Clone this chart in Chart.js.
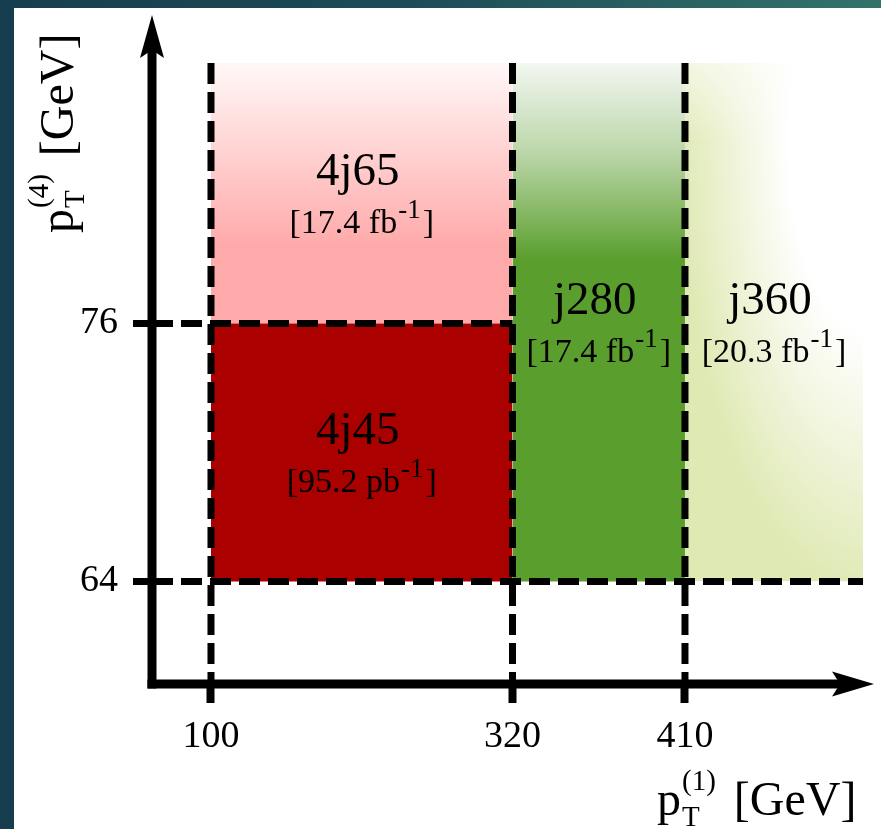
<!DOCTYPE html>
<html>
<head>
<meta charset="utf-8">
<title>Trigger regions</title>
<script src="https://cdn.jsdelivr.net/npm/chart.js@4.4.1/dist/chart.umd.min.js"></script>
<style>
  html, body { margin: 0; padding: 0; }
  body {
    width: 881px; height: 829px; overflow: hidden; position: relative;
    background: linear-gradient(90deg, #163d4e 0%, #1c4b57 45%, #33736a 100%);
  }
  #sheet { position: absolute; left: 14px; top: 8px; right: 0; bottom: 0; background: #fff; }
  #chart { position: absolute; left: 0; top: 0; }
</style>
</head>
<body>
<div id="sheet"></div>
<canvas id="chart" width="881" height="829"></canvas>
<script>
// thresholds on the leading and fourth jet pT (GeV)
const leadCuts = [100, 320, 410];
const fourthCuts = [64, 76];

// trigger regions; null = no upper cut
const regionNames = ['4j45', '4j65', 'j280', 'j360'];
const regionLumi = ['95.2', '17.4', '17.4', '20.3'];
const regionUnit = ['pb', 'fb', 'fb', 'fb'];
const regionLead = [[100, 320], [100, 320], [320, 410], [410, null]];
const regionFourth = [[64, 76], [76, null], [64, null], [64, null]];

// region colours
const regionColor = ['#aa0000', '#ffaaaa', '#5a9e2d', '#dfe9b3'];

// the axes are schematic, not to scale: value -> fraction of the axis length
const X_OPEN = 500;   // where open-ended regions stop drawing
const Y_OPEN = 100;
const KNOTS = {
  x: [[0, 0], [100, 0.0817], [320, 0.4993], [410, 0.7382], [X_OPEN, 0.9848], [520, 1]],
  y: [[50, 0], [64, 0.1532], [76, 0.5389], [Y_OPEN, 0.9283], [105, 1]]
};

function toFraction(knots, v) {
  for (let i = 1; i < knots.length; i++) {
    if (v <= knots[i][0] || i === knots.length - 1) {
      const [v0, f0] = knots[i - 1];
      const [v1, f1] = knots[i];
      return f0 + (v - v0) / (v1 - v0) * (f1 - f0);
    }
  }
}
function fromFraction(knots, f) {
  for (let i = 1; i < knots.length; i++) {
    if (f <= knots[i][1] || i === knots.length - 1) {
      const [v0, f0] = knots[i - 1];
      const [v1, f1] = knots[i];
      return v0 + (f - f0) / (f1 - f0) * (v1 - v0);
    }
  }
}

const LinearScale = Chart.registry.getScale('linear');
class SchematicScale extends LinearScale {
  getPixelForValue(value) {
    if (value === null || value === undefined || isNaN(value)) return NaN;
    return this.getPixelForDecimal(toFraction(KNOTS[this.id], value));
  }
  getValueForPixel(pixel) {
    return fromFraction(KNOTS[this.id], this.getDecimalForPixel(pixel));
  }
}
SchematicScale.id = 'schematic';
SchematicScale.defaults = LinearScale.defaults;
Chart.register(SchematicScale);

const SERIF = '"Liberation Serif", "Times New Roman", serif';

// fill styles (built once the scales know their pixels)
const patternCache = {};
function regionFill(i) {
  return (ctx) => {
    const chart = ctx.chart;
    if (!chart.chartArea) return regionColor[i];
    const xs = chart.scales.x, ys = chart.scales.y;
    const g = chart.ctx;
    const top = ys.getPixelForValue(Y_OPEN);
    const name = regionNames[i];
    if (name === '4j65') {
      const lg = g.createLinearGradient(0, top, 0, ys.getPixelForValue(regionFourth[i][0]));
      lg.addColorStop(0, '#fff8f8');
      lg.addColorStop(0.7, regionColor[i]);
      lg.addColorStop(1, regionColor[i]);
      return lg;
    }
    if (name === 'j280') {
      const lg = g.createLinearGradient(0, top, 0, ys.getPixelForValue(regionFourth[i][0]));
      lg.addColorStop(0, '#f3f7f1');
      lg.addColorStop(0.18, '#b9d5a6');
      lg.addColorStop(0.38, regionColor[i]);
      lg.addColorStop(1, regionColor[i]);
      return lg;
    }
    if (name === 'j360') {
      const key = chart.width + 'x' + chart.height + ':' + top;
      if (patternCache[key]) return patternCache[key];
      const x1 = xs.getPixelForValue(regionLead[i][0]);
      const x2 = xs.getPixelForValue(X_OPEN);
      const y1 = ys.getPixelForValue(regionFourth[i][0]);
      const off = document.createElement('canvas');
      off.width = chart.width; off.height = chart.height;
      const o = off.getContext('2d');
      o.fillStyle = regionColor[i];
      o.fillRect(x1, top, x2 - x1, y1 - top);
      // white glow in the upper right corner
      o.save();
      o.translate(x2 + 5, top + 77);
      o.scale(1, 2.4);
      const rg = o.createRadialGradient(0, 0, 0, 0, 0, 190);
      rg.addColorStop(0, 'rgba(255,255,255,1)');
      rg.addColorStop(0.42, 'rgba(255,255,255,1)');
      rg.addColorStop(1, 'rgba(255,255,255,0)');
      o.fillStyle = rg;
      o.fillRect(-400, -400, 800, 800);
      o.restore();
      // fade at the top edge
      const lg = o.createLinearGradient(0, top, 0, top + 80);
      lg.addColorStop(0, 'rgba(255,255,255,0.6)');
      lg.addColorStop(1, 'rgba(255,255,255,0)');
      o.fillStyle = lg;
      o.fillRect(x1, top, x2 - x1, 80);
      patternCache[key] = g.createPattern(off, 'no-repeat');
      return patternCache[key];
    }
    return regionColor[i];
  };
}

// datasets
const datasets = [];
regionNames.forEach((name, i) => {
  const xHi = regionLead[i][1] === null ? X_OPEN : regionLead[i][1];
  const yHi = regionFourth[i][1] === null ? Y_OPEN : regionFourth[i][1];
  datasets.push({
    label: name,
    data: [{ x: regionLead[i][0], y: yHi }, { x: xHi, y: yHi }],
    fill: { value: regionFourth[i][0] },
    backgroundColor: regionFill(i),
    borderColor: 'rgba(0,0,0,0)',
    borderWidth: 0,
    pointRadius: 0,
    order: 2
  });
});

const dashStyle = {
  borderColor: '#000',
  borderWidth: 7,
  borderDash: [21, 8],
  borderCapStyle: 'butt',
  pointRadius: 0,
  fill: false,
  order: 0
};
// vertical cut lines on the leading jet
leadCuts.forEach(c => {
  datasets.push(Object.assign({ label: 'lead ' + c, data: [{ x: c, y: Y_OPEN }, { x: c, y: 50 }] }, dashStyle));
});
// horizontal cut lines on the fourth jet
datasets.push(Object.assign({ label: 'fourth 76', data: [{ x: 0, y: 76 }, { x: 320, y: 76 }] }, dashStyle));
datasets.push(Object.assign({ label: 'fourth 64', data: [{ x: 0, y: 64 }, { x: X_OPEN, y: 64 }] }, dashStyle));

// sub/superscripted axis title: p_T^(n) [GeV]
function drawPT(ctx, x, y, n) {
  ctx.textAlign = 'left';
  ctx.textBaseline = 'alphabetic';
  ctx.font = '48px ' + SERIF;
  ctx.fillText('p', x, y);
  const sx = x + ctx.measureText('p').width + 1;
  ctx.font = '29px ' + SERIF;
  ctx.fillText('T', sx, y + 11);
  ctx.fillText('(' + n + ')', sx, y - 25);
  const w = Math.max(ctx.measureText('T').width, ctx.measureText('(' + n + ')').width);
  ctx.font = '48px ' + SERIF;
  ctx.fillText('[GeV]', sx + w + 18, y);
}

const schematicPlugin = {
  id: 'schematic',
  afterDraw(chart) {
    const ctx = chart.ctx;
    const area = chart.chartArea;
    const xs = chart.scales.x, ys = chart.scales.y;
    const ox = area.left, oy = area.bottom;
    ctx.save();

    // axes with arrow heads
    ctx.fillStyle = '#000';
    ctx.fillRect(ox - 4.5, area.top + 30, 9, oy - area.top - 30 + 4.5);
    ctx.fillRect(ox - 4.5, oy - 4.5, area.right - 30 - ox + 4.5, 9);
    ctx.beginPath();
    ctx.moveTo(ox, area.top);
    ctx.lineTo(ox - 12, area.top + 43);
    ctx.lineTo(ox, area.top + 35);
    ctx.lineTo(ox + 12, area.top + 43);
    ctx.closePath();
    ctx.fill();
    ctx.beginPath();
    ctx.moveTo(area.right, oy);
    ctx.lineTo(area.right - 42, oy - 12.5);
    ctx.lineTo(area.right - 34, oy);
    ctx.lineTo(area.right - 42, oy + 12.5);
    ctx.closePath();
    ctx.fill();

    // region labels
    regionNames.forEach((name, i) => {
      const xHi = regionLead[i][1] === null ? X_OPEN : regionLead[i][1];
      const yHi = regionFourth[i][1] === null ? Y_OPEN : regionFourth[i][1];
      const cx = (xs.getPixelForValue(regionLead[i][0]) + xs.getPixelForValue(xHi)) / 2;
      const cy = (ys.getPixelForValue(regionFourth[i][0]) + ys.getPixelForValue(yHi)) / 2;
      ctx.fillStyle = '#000';
      ctx.textBaseline = 'alphabetic';
      ctx.textAlign = 'center';
      ctx.font = '47px ' + SERIF;
      ctx.fillText(name, cx - 4, cy - 8);

      const head = '[' + regionLumi[i] + ' ' + regionUnit[i];
      ctx.font = '34px ' + SERIF;
      const wHead = ctx.measureText(head).width;
      const wTail = ctx.measureText(']').width;
      ctx.font = '27px ' + SERIF;
      const wSup = ctx.measureText('-1').width;
      let lx = cx - (wHead + wSup + wTail + 3) / 2;
      const ly = cy + 40;
      ctx.textAlign = 'left';
      ctx.font = '34px ' + SERIF;
      ctx.fillText(head, lx, ly);
      lx += wHead + 1;
      ctx.font = '27px ' + SERIF;
      ctx.fillText('-1', lx, ly - 15);
      lx += wSup + 2;
      ctx.font = '34px ' + SERIF;
      ctx.fillText(']', lx, ly);
    });

    // axis titles
    ctx.fillStyle = '#000';
    drawPT(ctx, 657, 815, 1);
    ctx.translate(73, 233);
    ctx.rotate(-Math.PI / 2);
    drawPT(ctx, 0, 0, 4);
    ctx.restore();
  }
};

const tickFont = { family: SERIF, size: 38, lineHeight: 1.2 };

new Chart(document.getElementById('chart'), {
  type: 'line',
  data: { datasets: datasets },
  options: {
    responsive: false,
    devicePixelRatio: 1,
    animation: false,
    layout: { padding: { top: 15, right: 7, left: 0, bottom: 0 } },
    plugins: { legend: { display: false }, tooltip: { enabled: false } },
    scales: {
      x: {
        type: 'schematic',
        min: 0, max: 520,
        border: { display: false },
        grid: { drawOnChartArea: false, drawTicks: true, tickLength: 19, tickWidth: 8, tickColor: '#000' },
        ticks: { autoSkip: false, maxRotation: 0, padding: 11, color: '#000', font: tickFont, callback: v => String(v) },
        afterBuildTicks: s => { s.ticks = leadCuts.map(v => ({ value: v })); },
        afterFit: s => { s.height = 145; s.paddingLeft = 0; s.paddingRight = 0; }
      },
      y: {
        type: 'schematic',
        min: 50, max: 105,
        border: { display: false },
        grid: { drawOnChartArea: false, drawTicks: true, tickLength: 19, tickWidth: 7, tickColor: '#000' },
        ticks: { autoSkip: false, padding: 15, color: '#000', font: tickFont, callback: v => String(v) },
        afterBuildTicks: s => { s.ticks = fourthCuts.map(v => ({ value: v })); },
        afterFit: s => { s.width = 152; s.paddingTop = 0; s.paddingBottom = 0; }
      }
    }
  },
  plugins: [schematicPlugin]
});
</script>
</body>
</html>
